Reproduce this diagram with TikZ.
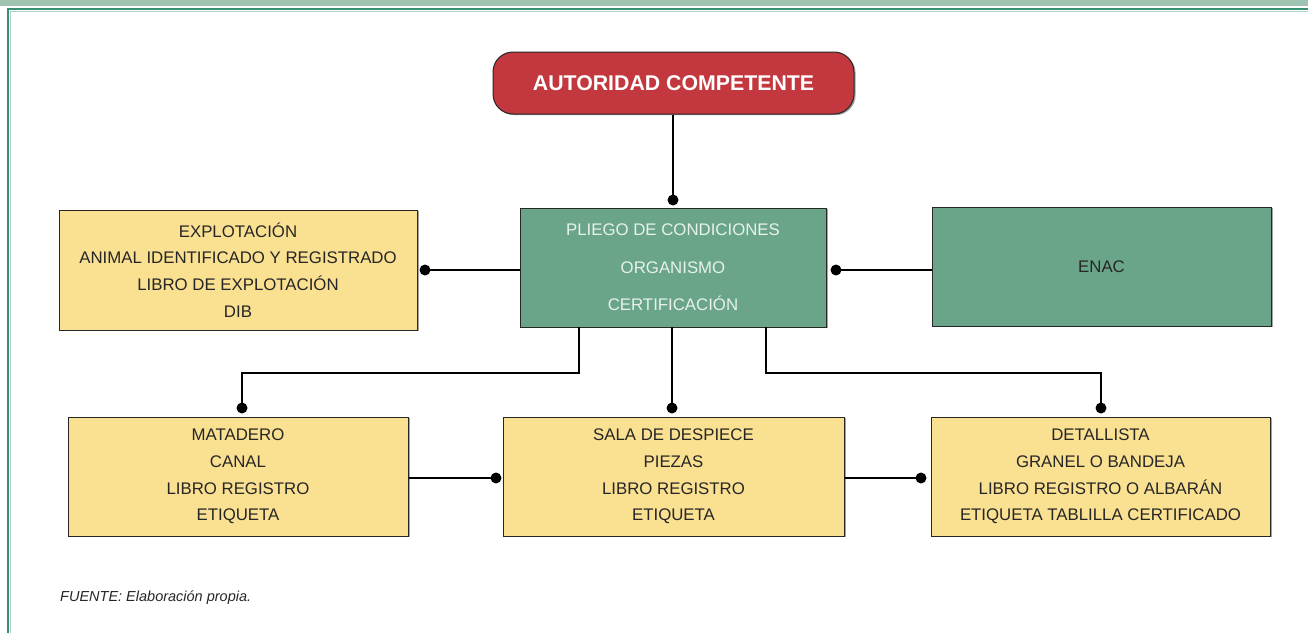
\documentclass[tikz,border=0pt]{standalone}
\usepackage{fontspec}
\setmainfont{Liberation Sans}
\usetikzlibrary{calc,shadows}
\definecolor{redbox}{HTML}{C3383F}
\definecolor{greenbox}{HTML}{6AA58A}
\definecolor{yellowbox}{HTML}{FAE091}
\definecolor{txtdark}{HTML}{262626}
\definecolor{txtlight}{HTML}{E8F1EC}
\definecolor{bandgreen}{HTML}{A0C3B1}
\definecolor{framegreen}{HTML}{3A8F6F}
\tikzset{
  base/.style={draw=black!85, line width=1pt, align=center, inner sep=0pt,
    drop shadow={shadow xshift=1.6pt, shadow yshift=-1.2pt, fill=black!45, opacity=0.8}},
  yellowcard/.style={base, fill=yellowbox, text=txtdark, font=\fontsize{16.8}{26.6}\selectfont,
    minimum width=#1, minimum height=119pt},
  greencard/.style={base, fill=greenbox, minimum height=119pt, minimum width=#1},
  conn/.style={line width=2.8pt, black},
  dot/.style={circle, fill=black, inner sep=0pt, minimum size=11pt}
}
\begin{document}
\begin{tikzpicture}[x=1pt,y=-1pt]
\useasboundingbox (0,0) rectangle (1308,632);
% frame
\fill[bandgreen] (0,0) rectangle (1308,6);
\draw[framegreen, line width=2pt] (8,633) -- (8,9) -- (1309,9);
\draw[framegreen!40, line width=0.8pt] (10.5,633) -- (10.5,11) -- (1309,11);
% nodes
\node[base, fill=redbox, rounded corners=20pt, minimum width=361pt, minimum height=62pt,
  text=white, font=\bfseries\fontsize{21.3}{24}\selectfont] (auth) at (673.5,83) {AUTORIDAD COMPETENTE};
\node[greencard=306pt, text=txtlight, font=\fontsize{16.8}{37.5}\selectfont] (pliego) at (673,267.5)
  {PLIEGO DE CONDICIONES\\ORGANISMO\\CERTIFICACIÓN};
\node[yellowcard=358pt, minimum height=120pt] (expl) at (238,270)
  {EXPLOTACIÓN\\ANIMAL IDENTIFICADO Y REGISTRADO\\LIBRO DE EXPLOTACIÓN\\DIB};
\node[greencard=339pt, text=txtdark, font=\fontsize{16.8}{20}\selectfont] (enac) at (1101.5,266.5) {ENAC};
\node[yellowcard=340pt] (mat) at (238,476.5) {MATADERO\\CANAL\\LIBRO REGISTRO\\ETIQUETA};
\node[yellowcard=341pt] (sala) at (673.5,476.5) {SALA DE DESPIECE\\PIEZAS\\LIBRO REGISTRO\\ETIQUETA};
\node[yellowcard=339pt] (det) at (1100.5,476.5)
  {DETALLISTA\\GRANEL O BANDEJA\\LIBRO REGISTRO O ALBARÁN\\ETIQUETA TABLILLA CERTIFICADO};
% dots / connector end points
\node[dot] (d1) at (673,200) {};
\node[dot] (d2) at (425,270) {};
\node[dot] (d3) at (836,270) {};
\node[dot] (d4) at (242,408) {};
\node[dot] (d5) at (672,408) {};
\node[dot] (d6) at (1101,408) {};
\node[dot] (d7) at (496,478) {};
\node[dot] (d8) at (921,478) {};
\coordinate (b1) at (579,327);
\coordinate (b2) at (672,327);
\coordinate (b3) at (766,327);
% connectors
\draw[conn] (auth.south -| d1) -- (d1.center);
\draw[conn] (pliego.west |- d2) -- (d2.center);
\draw[conn] (enac.west |- d3) -- (d3.center);
\draw[conn] (b1) -- (579,373) -| (d4.center);
\draw[conn] (b2) -- (d5.center);
\draw[conn] (b3) -- (766,373) -| (d6.center);
\draw[conn] (mat.east |- d7) -- (d7.center);
\draw[conn] (sala.east |- d8) -- (d8.center);
% source
\node[anchor=west, text=txtdark, font=\itshape\fontsize{14.5}{16}\selectfont, inner sep=0pt] (src) at (60,598)
  {FUENTE: Elaboración propia.};
\end{tikzpicture}
\end{document}
